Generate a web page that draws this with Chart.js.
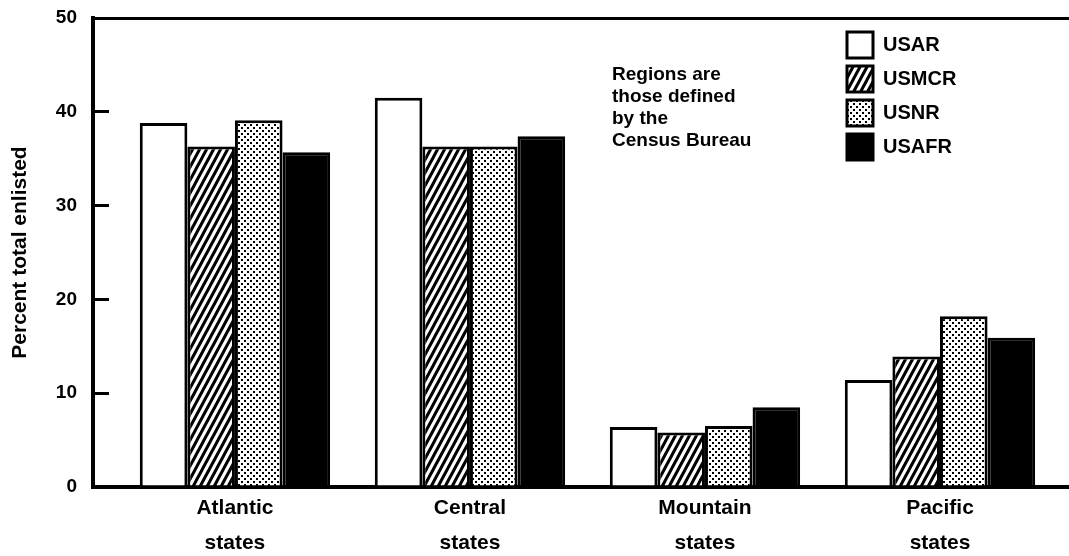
<!DOCTYPE html>
<html>
<head>
<meta charset="utf-8">
<script src="https://cdn.jsdelivr.net/npm/chart.js@4.4.1/dist/chart.umd.min.js"></script>
<style>
  html, body { margin: 0; padding: 0; background: #fff; }
  canvas { display: block; }
</style>
</head>
<body>
<canvas id="chart" width="1069" height="556"></canvas>
<script>
// values (percent of total enlisted)
var categories = [["Atlantic", "states"], ["Central", "states"], ["Mountain", "states"], ["Pacific", "states"]];
var seriesNames = ["USAR", "USMCR", "USNR", "USAFR"];
var usar = [38.8, 41.5, 6.4, 11.4];
var usmcr = [36.3, 36.3, 5.8, 13.9];
var usnr = [39.1, 36.3, 6.5, 18.2];
var usafr = [35.7, 37.4, 8.5, 15.9];
var yTicks = [0, 10, 20, 30, 40, 50];
var noteLines = ["Regions are", "those defined", "by the", "Census Bureau"];

Chart.defaults.font.family = '"Liberation Sans", Arial, sans-serif';
Chart.defaults.color = '#000';

// steep diagonal hatch like "////"
function hatch() {
    var w = 7, h = 13;
    var c = document.createElement('canvas');
    c.width = w; c.height = h;
    var g = c.getContext('2d');
    g.fillStyle = '#fff';
    g.fillRect(0, 0, w, h);
    g.strokeStyle = '#000';
    g.lineWidth = 3;
    g.beginPath();
    [-w, 0, w].forEach(function(dx) {
        g.moveTo(dx - 1, h + h / w);
        g.lineTo(dx + w + 1, -h / w);
    });
    g.stroke();
    return g.createPattern(c, 'repeat');
}

// stipple dots
function dots() {
    var c = document.createElement('canvas');
    c.width = 6; c.height = 6;
    var g = c.getContext('2d');
    g.fillStyle = '#fff';
    g.fillRect(0, 0, 6, 6);
    g.fillStyle = '#000';
    g.fillRect(1, 1, 2, 2);
    g.fillRect(4, 4, 2, 2);
    return g.createPattern(c, 'repeat');
}

var seriesValues = [usar, usmcr, usnr, usafr];
var fills = ['#fff', hatch(), dots(), '#000'];

var datasets = seriesNames.map(function(name, s) {
    return {
        label: name,
        data: seriesValues[s].map(function(v, i) { return { x: i, y: v }; }),
        backgroundColor: fills[s],
        borderColor: '#000',
        borderWidth: 3,
        barPercentage: 1,
        categoryPercentage: 0.81
    };
});

// put the legend inside the plot, top right
var moveLegend = {
    id: 'moveLegend',
    afterLayout: function(chart) {
        var a = chart.chartArea;
        chart.legend.left = a.left + 746;
        chart.legend.top = a.top + 6;
    }
};

// the note next to the legend
var note = {
    id: 'note',
    afterDatasetsDraw: function(chart) {
        var ctx = chart.ctx;
        var a = chart.chartArea;
        ctx.save();
        ctx.font = 'bold 19px "Liberation Sans", Arial, sans-serif';
        ctx.fillStyle = '#000';
        ctx.textBaseline = 'middle';
        noteLines.forEach(function(t, i) {
            ctx.fillText(t, a.left + 519, a.top + 57 + i * 22);
        });
        ctx.restore();
    }
};

var chart = new Chart(document.getElementById('chart'), {
    type: 'bar',
    data: { datasets: datasets },
    plugins: [moveLegend, note],
    options: {
        responsive: false,
        animation: false,
        layout: { padding: { left: 4, top: 18, right: 0, bottom: 0 } },
        plugins: {
            tooltip: { enabled: false },
            legend: {
                position: 'chartArea',
                fullSize: false,
                align: 'start',
                labels: {
                    boxWidth: 26,
                    boxHeight: 26,
                    padding: 8,
                    color: '#000',
                    font: { size: 20, weight: 'bold' }
                }
            }
        },
        scales: {
            x: {
                type: 'linear',
                offset: false,
                min: -0.604,
                max: 3.549,
                afterBuildTicks: function(s) {
                    s.ticks = categories.map(function(c, i) { return { value: i }; });
                },
                ticks: {
                    callback: function(v) { return categories[v]; },
                    color: '#000',
                    font: { size: 21, weight: 'bold', lineHeight: 1.65 },
                    padding: 4,
                    maxRotation: 0,
                    autoSkip: false
                },
                grid: { display: false, drawTicks: false },
                border: { display: true, color: '#000', width: 4 },
                afterFit: function(s) { s.height = 69; }
            },
            y: {
                min: 0,
                max: 50,
                afterBuildTicks: function(s) {
                    s.ticks = yTicks.map(function(v) { return { value: v }; });
                },
                ticks: {
                    color: '#000',
                    font: { size: 19, weight: 'bold' },
                    padding: 32
                },
                grid: {
                    color: function(c) { return c.tick && c.tick.value === 50 ? '#000' : 'rgba(0,0,0,0)'; },
                    lineWidth: 3,
                    tickLength: -16,
                    tickWidth: 3,
                    tickColor: function(c) {
                        return c.tick && c.tick.value > 0 && c.tick.value < 50 ? '#000' : 'rgba(0,0,0,0)';
                    }
                },
                border: { display: true, color: '#000', width: 4 },
                title: {
                    display: true,
                    text: 'Percent total enlisted',
                    color: '#000',
                    font: { size: 21, weight: 'bold' },
                    padding: { top: 4, bottom: 0 }
                },
                afterFit: function(s) {
                    s.width = 89;
                    // the tick padding is only there to push labels left of the inward ticks
                    s.paddingTop = 12;
                    s.paddingBottom = 12;
                }
            }
        }
    }
});
</script>
</body>
</html>
